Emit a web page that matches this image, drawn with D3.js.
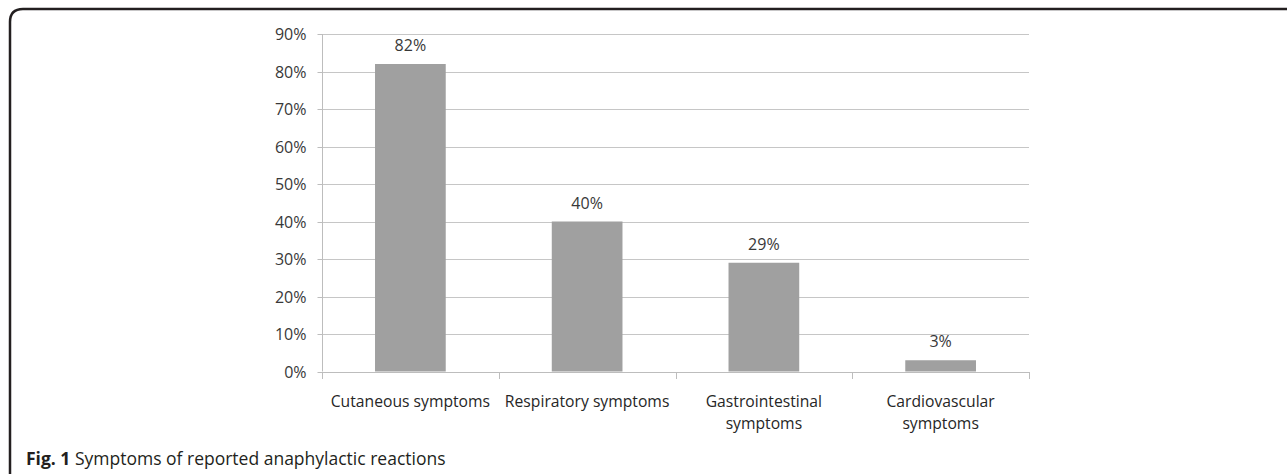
<!DOCTYPE html>
<html><head><meta charset="utf-8">
<script src="https://cdn.jsdelivr.net/npm/d3@7"></script>
<style>html,body{margin:0;padding:0;background:#fff;}svg{display:block;}</style>
</head><body>
<svg id="c" width="1287" height="474"></svg>
<script>
const categories = [["Cutaneous symptoms"], ["Respiratory symptoms"], ["Gastrointestinal", "symptoms"], ["Cardiovascular", "symptoms"]];
const values = [82, 40, 29, 3];
const yTicks = [0, 10, 20, 30, 40, 50, 60, 70, 80, 90];
const captionBold = "Fig. 1";
const captionText = " Symptoms of reported anaphylactic reactions";

const svg = d3.select("#c");
const W = 1287, H = 474;
const font = "'Open Sans', sans-serif";
const m = {left: 322, right: 1029, top: 34, bottom: 371.5};

// frame
svg.append("path")
  .attr("d", `M10,${H} L10,22 Q10,9 23,9 L${W},9`)
  .attr("fill", "none").attr("stroke", "#231f20").attr("stroke-width", 2.5);

const idx = categories.map((d, i) => i);
const x = d3.scaleBand().domain(idx).range([m.left, m.right]).padding(0);
const y = d3.scaleLinear().domain([0, 90]).range([m.bottom, m.top]);

// gridlines
svg.append("g").selectAll("line").data(yTicks.filter(d => d > 0)).join("line")
  .attr("x1", m.left).attr("x2", m.right)
  .attr("y1", d => Math.round(y(d)) + 0.5).attr("y2", d => Math.round(y(d)) + 0.5)
  .attr("stroke", "#c6c6c6").attr("stroke-width", 1);

// y axis
const yAxis = svg.append("g").attr("transform", `translate(${m.left + 0.5},0)`)
  .call(d3.axisLeft(y).tickValues(yTicks).tickSize(5).tickPadding(11).tickFormat(d => d + "%"));
yAxis.select(".domain").attr("stroke", "#bdbdbd").attr("d", `M0,${m.top} V${m.bottom}`);
yAxis.selectAll(".tick line").attr("stroke", "#bdbdbd");
yAxis.selectAll(".tick").attr("transform", d => `translate(0,${Math.round(y(d)) + 0.5})`);
yAxis.selectAll("text").attr("font-family", font).attr("font-size", 16).attr("fill", "#383838");

// bars
const bw = x.bandwidth() * 0.4;
svg.append("g").selectAll("rect").data(values).join("rect")
  .attr("x", (d, i) => x(i) + (x.bandwidth() - bw) / 2)
  .attr("y", d => y(d))
  .attr("width", bw)
  .attr("height", d => y(0) - y(d))
  .attr("fill", "#a0a0a0");

// value labels
svg.append("g").selectAll("text").data(values).join("text")
  .attr("x", (d, i) => x(i) + x.bandwidth() / 2)
  .attr("y", d => y(d) - 13)
  .attr("text-anchor", "middle")
  .attr("font-family", font).attr("font-size", 16).attr("fill", "#383838")
  .text(d => d + "%");

// x axis
const xa = svg.append("g");
xa.append("line").attr("x1", m.left).attr("x2", m.right + 0.5)
  .attr("y1", Math.round(y(0)) + 0.5).attr("y2", Math.round(y(0)) + 0.5)
  .attr("stroke", "#bdbdbd");
const bounds = idx.map(i => x(i)).concat([m.right]);
xa.selectAll("line.t").data(bounds).join("line").attr("class", "t")
  .attr("x1", d => Math.round(d) + 0.5).attr("x2", d => Math.round(d) + 0.5)
  .attr("y1", Math.round(y(0))).attr("y2", Math.round(y(0)) + 7)
  .attr("stroke", "#bdbdbd");

// category labels
const lab = svg.append("g").selectAll("text").data(categories).join("text")
  .attr("text-anchor", "middle")
  .attr("font-family", font).attr("font-size", 15.7).attr("fill", "#262626");
lab.each(function(lines, i) {
  const t = d3.select(this);
  lines.forEach((ln, k) => {
    t.append("tspan").attr("x", x(i) + x.bandwidth() / 2).attr("y", 407 + k * 22).text(ln);
  });
});

// caption
const cap = svg.append("text").attr("x", 26).attr("y", 465)
  .attr("font-family", font).attr("font-size", 17.5).attr("fill", "#231f20");
cap.append("tspan").attr("font-weight", "bold").text(captionBold);
cap.append("tspan").text(captionText);
</script>
</body></html>
